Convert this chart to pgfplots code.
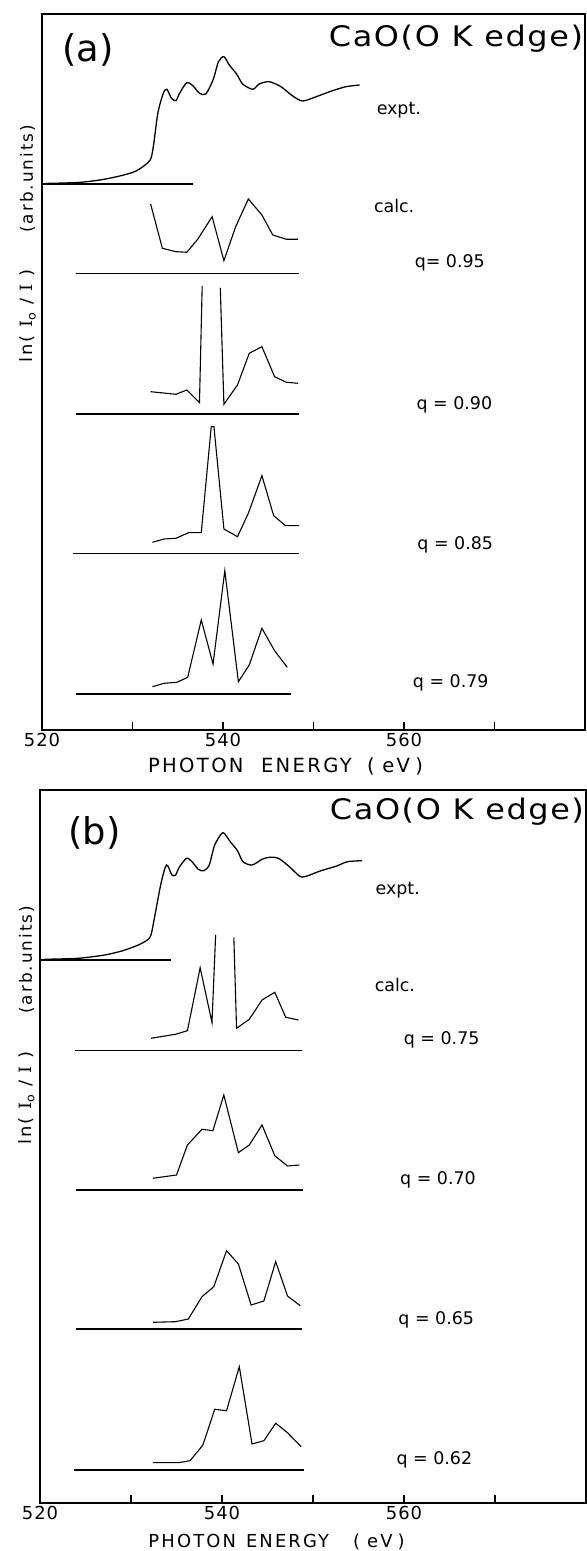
\documentclass[border=0pt]{standalone}
\usepackage{pgfplots}
\pgfplotsset{compat=1.18}
\usepackage{fontspec}
\usepackage{graphicx}
\setmainfont{DejaVu Sans}
\newfontfamily\lsA{DejaVu Sans}[LetterSpace=5]
\newfontfamily\lsB{DejaVu Sans}[LetterSpace=12]
\newfontfamily\serI{DejaVu Serif}

\newcommand\lblf{\fontsize{17.5}{18}\selectfont}
\newcommand\tickf{\fontsize{18}{18}\selectfont\lsA}
\newcommand\axf{\fontsize{18}{18}\selectfont\lsB}
\newcommand\yf{\fontsize{17}{17}\selectfont\lsB}
\newcommand\ttlf{\fontsize{27.4}{28}\selectfont\lsA}
\newcommand\panf{\fontsize{37}{37}\selectfont}
% text boxes stretched to the sizes measured on the reference
\newcommand\ttl{\resizebox{254bp}{21.5bp}{CaO(O K edge)}}
\newcommand\ylab{\resizebox{93bp}{\height}{ln(\hspace{7bp}{\serI I}\textsubscript{o}\hspace{7bp}/\hspace{7bp}{\serI I}\hspace{7bp})}}
\newcommand\yarb{\resizebox{108bp}{\height}{(arb.units)}}

\pgfplotsset{
  spec/.style={
    scale only axis, width=543bp, height=716bp,
    xmin=520, xmax=580, ymin=0, ymax=716,
    axis line style={line width=2.5bp},
    xtick={520,530,...,570}, xticklabels={520,,540,,560,},
    xtick pos=left, ytick=\empty,
    major tick length=8bp,
    tick style={line width=1.4bp, black},
    xticklabel style={font=\tickf},
    clip=false,
  },
  expt/.style={line width=1.3bp, black, smooth, tension=0.45},
  base/.style={line width=1.2bp, black},
  calc/.style={line width=1.1bp, black},
}

\begin{document}
\begin{tikzpicture}
\useasboundingbox (0,0) rectangle (587bp,1551bp);

% ---------------- panel (a)
\begin{axis}[spec, at={(42bp,821bp)}, anchor=south west]
% experiment
\addplot[base] coordinates {(520,546)(536.7,546)};
\addplot[expt] coordinates {
 (520.3,546.5)(524.0,547.5)(526.4,550)(528.6,554)(530.4,559)(531.9,569.3)
 (532.3,583.3)(532.8,616.7)(533.4,636.7)(533.8,640.7)(534.3,631.7)(534.8,629.3)
 (535.2,636.7)(536.0,647.3)(536.7,644)(537.4,636.7)(538.1,636)(538.9,650)
 (539.5,668.3)(540.1,673.3)(540.7,665)(541.5,656)(542.2,645.7)(543.3,640.7)
 (544.0,646)(545.1,648.3)(546.4,643.3)(547.7,634)(548.8,629)(550.3,633.3)
 (552.1,639.3)(553.6,643.3)(555.1,645)};
% q = 0.95
\addplot[base] coordinates {(523.8,456.7)(548.4,456.7)};
\addplot[calc] coordinates {
 (532.0,526)(533.3,481.7)(534.8,478.3)(536.0,477.7)(537.2,490.7)(538.8,513.3)
 (540.1,469.3)(541.4,503.3)(542.8,531)(544.3,515)(545.5,495)(547.0,490.7)(548.3,490.7)};
% q = 0.90 (peak runs off the top)
\addplot[base] coordinates {(523.8,316)(548.4,316)};
\addplot[calc] coordinates {
 (532.0,338.3)(534.8,335.7)(536.0,340)(537.4,327.3)(537.7,444)};
\addplot[calc] coordinates {
 (539.7,442)(540.1,325.7)(541.6,345)(542.9,376.7)(544.3,383.3)(545.7,353.3)
 (547.0,347.7)(548.3,346.7)};
% q = 0.85
\addplot[base] coordinates {(523.4,176.7)(548.4,176.7)};
\addplot[calc] coordinates {
 (532.2,187.7)(533.5,191)(534.8,191.7)(536.2,197.3)(537.6,197.3)(538.7,303.3)
 (539.0,303.3)(540.1,201)(541.6,193.3)(542.8,216.7)(544.3,254.3)(545.6,214.3)
 (546.9,204.3)(548.4,204.3)};
% q = 0.79
\addplot[base] coordinates {(523.8,36)(547.5,36)};
\addplot[calc] coordinates {
 (532.2,43.3)(533.5,46.7)(534.9,47.7)(536.1,52.7)(537.6,110)(538.9,66)
 (540.2,159.3)(541.7,48.3)(542.9,65)(544.3,101.7)(545.7,79.3)(547.1,62.7)};

\node[font=\panf, anchor=base] at (axis cs:525.1,668.5) {(a)};
\node[font=\ttlf, anchor=base east, inner sep=0pt] at (axis cs:579.8,683.3) {\ttl};
\node[font=\lblf, anchor=base west] at (axis cs:556.6,615) {expt.};
\node[font=\lblf, anchor=base west] at (axis cs:556.3,517) {calc.};
\node[font=\lblf, anchor=base west] at (axis cs:560.8,462) {q= 0.95};
\node[font=\lblf, anchor=base west] at (axis cs:561.0,320) {q = 0.90};
\node[font=\lblf, anchor=base west] at (axis cs:561.1,180) {q = 0.85};
\node[font=\lblf, anchor=base west] at (axis cs:560.6,42) {q = 0.79};
\node[font=\yf, rotate=90, anchor=base west, inner sep=0pt] at (axis cs:519.0,367) {\ylab};
\node[font=\yf, rotate=90, anchor=base west, inner sep=0pt] at (axis cs:519.0,497) {\yarb};
\node[font=\axf, anchor=base west, inner sep=0pt] at (axis cs:531.7,-43)
  {\resizebox{275bp}{!}{PHOTON\hspace{16bp}ENERGY\hspace{14bp}(\hspace{7bp}eV\hspace{5bp})}};
\end{axis}

% ---------------- panel (b)
\begin{axis}[spec, width=546bp, height=713bp, ymax=713, at={(40bp,48bp)}, anchor=south west]
% experiment
\addplot[base] coordinates {(520,543)(534.4,543)};
\addplot[expt] coordinates {
 (520.5,543.7)(524.2,544.7)(527.1,548)(529.1,552.3)(530.8,558)(531.8,563)
 (532.2,568)(532.6,586.3)(533.3,619.7)(533.9,638)(534.5,628)(534.9,628)
 (535.3,635.7)(536.1,644.7)(536.7,641.3)(537.4,633.7)(538.0,632.3)(538.6,638)
 (539.2,658)(540.1,670.3)(540.9,661.3)(541.7,652.3)(542.3,641.3)(543.3,638)
 (544.4,643.7)(545.2,645.7)(546.2,644.7)(547.4,636.3)(548.5,627)(549.1,626.3)
 (550.9,632.3)(552.6,637)(553.8,641.3)(555.4,642.3)};
% q = 0.75 (peak runs off the top)
\addplot[base] coordinates {(523.8,452.3)(548.8,452.3)};
\addplot[calc] coordinates {
 (532.2,464.7)(533.7,467)(534.9,468.7)(536.2,472.3)(537.6,535.3)(538.9,480.3)(539.3,568)};
\addplot[calc] coordinates {
 (541.3,565.7)(541.6,474.7)(543.0,483.7)(544.4,503)(545.8,510.7)(547.0,485.7)(548.4,483)};
% q = 0.70
\addplot[base] coordinates {(524.0,313)(548.9,313)};
\addplot[calc] coordinates {
 (532.4,324.7)(535.0,328)(536.2,358)(537.8,373.7)(539.0,372.3)(540.2,408)
 (541.8,350.3)(543.0,358)(544.4,378)(545.8,347.3)(547.2,337)(548.5,338)};
% q = 0.65
\addplot[base] coordinates {(524.0,174)(548.8,174)};
\addplot[calc] coordinates {
 (532.4,180.7)(534.9,181.3)(536.3,184)(537.8,206.3)(539.1,216.3)(540.5,252.3)
 (541.8,239)(543.2,198)(544.6,202)(545.9,241.3)(547.2,207)(548.6,197.3)};
% q = 0.62
\addplot[base] coordinates {(523.7,33)(549.0,33)};
\addplot[calc] coordinates {
 (532.4,40.3)(535.2,40.3)(536.5,42.3)(537.9,58)(539.2,93.7)(540.5,92.3)
 (541.9,136.3)(543.3,59)(544.6,62.3)(545.9,79.7)(547.2,70.3)(548.7,56.3)};

\node[font=\panf, anchor=base] at (axis cs:526.0,658) {(b)};
\node[font=\ttlf, anchor=base east, inner sep=0pt] at (axis cs:579.8,683) {\ttl};
\node[font=\lblf, anchor=base west] at (axis cs:556.5,608) {expt.};
\node[font=\lblf, anchor=base west] at (axis cs:556.4,511) {calc.};
\node[font=\lblf, anchor=base west] at (axis cs:559.6,458) {q = 0.75};
\node[font=\lblf, anchor=base west] at (axis cs:559.2,318) {q = 0.70};
\node[font=\lblf, anchor=base west] at (axis cs:559.0,178) {q = 0.65};
\node[font=\lblf, anchor=base west] at (axis cs:558.8,38) {q = 0.62};
\node[font=\yf, rotate=90, anchor=base west, inner sep=0pt] at (axis cs:519.1,358) {\ylab};
\node[font=\yf, rotate=90, anchor=base west, inner sep=0pt] at (axis cs:519.1,489) {\yarb};
\node[font=\axf, anchor=base west, inner sep=0pt] at (axis cs:531.9,-44)
  {\resizebox{256bp}{!}{PHOTON\hspace{10bp}ENERGY\hspace{24bp}(\hspace{7bp}eV\hspace{5bp})}};
\end{axis}
\end{tikzpicture}
\end{document}
